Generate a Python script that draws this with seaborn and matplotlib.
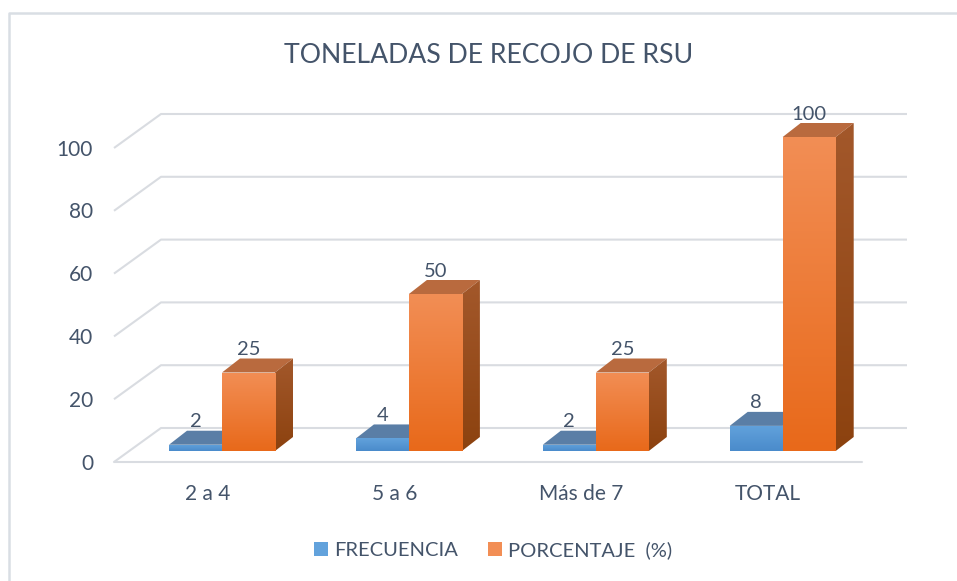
import numpy as np
import pandas as pd
import matplotlib
matplotlib.use("Agg")
import matplotlib.pyplot as plt
import seaborn as sns
from matplotlib.patches import Polygon, Patch
from matplotlib.colors import LinearSegmentedColormap
from matplotlib.lines import Line2D

# data
categorias = ["2 a 4", "5 a 6", "Más de 7", "TOTAL"]
series = ["FRECUENCIA", "PORCENTAJE  (%)"]
frecuencia = [2, 4, 2, 8]
porcentaje = [25, 50, 25, 100]
yticks = [0, 20, 40, 60, 80, 100]
titulo = "TONELADAS DE RECOJO DE RSU"

df = pd.DataFrame({
    "categoria": categorias * 2,
    "serie": [series[0]] * len(categorias) + [series[1]] * len(categorias),
    "valor": frecuencia + porcentaje,
})

# geometry of the fake 3d box, in pixels of the 957x581 canvas
W, H = 957, 581
X0, Y0 = 222, 451          # pixel of category 0 / value 0 (front of bars)
PX_X, PX_Y = 186.9, 3.14   # pixels per category, pixels per unit


def px2x(px):
    return (px - X0) / PX_X


def px2y(py):
    return (Y0 - py) / PX_Y


BDX, BDY = 18 / PX_X, 14 / PX_Y       # bar depth
FDY = -11 / PX_Y                      # front plane below bar base
TXT = "#44546A"
GRID = "#D9DCE1"

# palette: (front top, front bottom, side top, side bottom, top face)
colores = {
    series[0]: ("#62A2DC", "#4A8BCB", "#4C6F99", "#3F6189", "#5A7EA6"),
    series[1]: ("#F28E55", "#E8691A", "#A3582B", "#8C420F", "#B96A3E"),
}

sns.set_style("white")
plt.rcParams["font.family"] = ["Lato", "DejaVu Sans"]

fig = plt.figure(figsize=(W / 100, H / 100), dpi=100)
ax = fig.add_axes([0, 0, 1, 1])

sns.barplot(data=df, x="categoria", y="valor", hue="serie", order=categorias,
            hue_order=series, palette=[colores[s][0] for s in series],
            width=53 * 2 / PX_X, saturation=1, legend=False, ax=ax)


def grad_fill(poly, c_top, c_bot, z):
    poly.set_facecolor("none")
    poly.set_edgecolor("none")
    poly.set_zorder(z)
    if isinstance(poly, Polygon):
        xy = poly.get_xy()
        x0, y0 = xy[:, 0].min(), xy[:, 1].min()
        x1, y1 = xy[:, 0].max(), xy[:, 1].max()
    else:
        x0, y0 = poly.get_xy()
        x1, y1 = x0 + poly.get_width(), y0 + poly.get_height()
    cmap = LinearSegmentedColormap.from_list("g", [c_bot, c_top])
    im = ax.imshow(np.linspace(0, 1, 256).reshape(-1, 1), extent=(x0, x1, y0, y1),
                   origin="lower", aspect="auto", cmap=cmap, zorder=z,
                   interpolation="bilinear")
    im.set_clip_path(poly)


# 3d faces for each bar
for k, cont in enumerate(ax.containers):
    ft, fb, st, sb, tc = colores[series[k]]
    for bar in cont:
        x0 = bar.get_x()
        x1 = x0 + bar.get_width()
        h = bar.get_height()
        z = 3 + 2 * k
        top = Polygon([(x0, h), (x1, h), (x1 + BDX, h + BDY), (x0 + BDX, h + BDY)],
                      closed=True, facecolor=tc, edgecolor="none", zorder=z)
        ax.add_patch(top)
        side = Polygon([(x1, 0), (x1 + BDX, BDY), (x1 + BDX, h + BDY), (x1, h)], closed=True)
        ax.add_patch(side)
        grad_fill(side, st, sb, z)
        grad_fill(bar, ft, fb, z + 1)
        ax.text(x0 + bar.get_width() / 2, h + BDY + 3.5 / PX_Y, f"{h:g}",
                ha="center", va="baseline", fontsize=14.5, color=TXT, zorder=10)

# walls: gridlines on the back and left side, floor front edge
fl, bl, br, fr = px2x(114), px2x(161), px2x(907), px2x(862)
ddy = 34 / PX_Y
for v in yticks:
    yf = v + FDY
    ax.plot([fl, bl, br], [yf, yf + ddy, yf + ddy], color=GRID, lw=1.5,
            zorder=1, solid_capstyle="butt")
    ax.text(px2x(93), yf - 7.5 / PX_Y, str(v), ha="right", va="baseline",
            fontsize=15, color=TXT)
ax.plot([fl, fr], [FDY, FDY], color=GRID, lw=1.5, zorder=1)

# category labels centred on the front of the floor
for i, cat in enumerate(categorias):
    ax.text(i + px2x(207.5), px2y(500), cat, ha="center", va="baseline",
            fontsize=15, color=TXT)

ax.set_xlim(px2x(0), px2x(W))
ax.set_ylim(px2y(H), px2y(0))
ax.axis("off")

fig.text(489 / W, 1 - 63 / H, titulo, ha="center", va="baseline",
         fontsize=19.2, color=TXT)

handles = [Patch(facecolor=colores[s][0], edgecolor="none") for s in series]
fig.legend(handles, series, loc="center", bbox_to_anchor=(493 / W, 1 - 550 / H),
           ncol=2, frameon=False, fontsize=14.5, labelcolor=TXT,
           handlelength=0.7, handleheight=0.7, handletextpad=0.3,
           columnspacing=1.5)

# chart area border (only top and left show in the reference)
fig.add_artist(Line2D([9 / W, 9 / W, 1], [0, 1 - 13 / H, 1 - 13 / H],
                      transform=fig.transFigure, color="#D9DEE4", lw=1.8))

fig.savefig("out.png", dpi=100)
